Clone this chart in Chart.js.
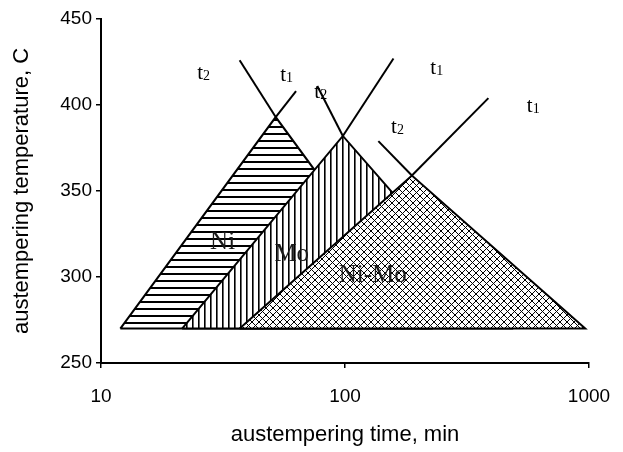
<!DOCTYPE html>
<html>
<head>
<meta charset="utf-8">
<script src="https://cdn.jsdelivr.net/npm/chart.js@4.4.1/dist/chart.umd.min.js"></script>
<style>
    html, body { margin: 0; padding: 0; background: #fff; }
    #wrap { width: 623px; height: 452px; }
</style>
</head>
<body>
<div id="wrap"><canvas id="chart"></canvas></div>
<script>
// processing windows: corners of each triangle (time, min / temperature, C), closed back to the start
const niTime = [12, 52, 225, 12];
const niTemp = [270, 393, 270, 270];
const moTime = [21.5, 98, 480, 21.5];
const moTemp = [270, 382, 270, 270];
const niMoTime = [37, 188, 965, 37];
const niMoTemp = [270, 359, 270, 270];

// t1 runs from each apex up to the right, t2 comes down from the upper left into it
const t1Time = [[52, 63], [98, 158], [188, 387]];
const t1Temp = [[393, 408], [382, 427], [359, 404]];
const t2Time = [[37, 52], [77, 98], [137, 188]];
const t2Temp = [[426, 393], [411, 382], [379, 359]];

const timeTicks = [10, 100, 1000];

// text placed in data units: [base, subscript, time, temperature]
const tNotes = [
    ['t', '2', 26.5, 419], ['t', '1', 58, 418],
    ['t', '2', 80, 408], ['t', '1', 239, 422],
    ['t', '2', 165, 388], ['t', '1', 594, 400]
];
const alloyNotes = [['Ni', 31.5, 320], ['Mo', 60.5, 313], ['Ni-Mo', 130, 301]];

function points(xs, ys) {
    return xs.map((x, i) => ({ x: x, y: ys[i] }));
}

function makePattern(kind) {
    const c = document.createElement('canvas');
    const size = kind === 'vertical' ? 6 : 7;
    c.width = size;
    c.height = size;
    const g = c.getContext('2d');
    g.fillStyle = '#fff';
    g.fillRect(0, 0, size, size);
    g.fillStyle = '#000';
    g.strokeStyle = '#000';
    if (kind === 'horizontal') {
        g.fillRect(0, 0, size, 2);
    } else if (kind === 'vertical') {
        g.fillRect(0, 0, 1.6, size);
    } else {
        g.lineWidth = 1;
        g.beginPath();
        g.moveTo(-1, -1); g.lineTo(size + 1, size + 1);
        g.moveTo(size + 1, -1); g.lineTo(-1, size + 1);
        g.stroke();
    }
    return g.createPattern(c, 'repeat');
}

function region(label, xs, ys, pattern, order) {
    return {
        label: label,
        data: points(xs, ys),
        showLine: true,
        fill: 'shape',
        backgroundColor: makePattern(pattern),
        borderColor: '#000',
        borderWidth: 2,
        pointRadius: 0,
        tension: 0,
        order: order
    };
}

function boundary(xs, ys) {
    return {
        data: points(xs, ys),
        showLine: true,
        fill: false,
        borderColor: '#000',
        borderWidth: 2,
        pointRadius: 0,
        order: 0
    };
}

const datasets = [
    region('Ni', niTime, niTemp, 'horizontal', 3),
    region('Mo', moTime, moTemp, 'vertical', 2),
    region('Ni-Mo', niMoTime, niMoTemp, 'cross', 1)
];
t1Time.forEach((xs, i) => datasets.push(boundary(xs, t1Temp[i])));
t2Time.forEach((xs, i) => datasets.push(boundary(xs, t2Temp[i])));

const serif = '"Liberation Serif", "Times New Roman", serif';

const notesPlugin = {
    id: 'notes',
    afterDatasetsDraw(chart) {
        const { ctx, scales: { x, y } } = chart;
        ctx.save();
        ctx.fillStyle = '#000';
        ctx.textBaseline = 'alphabetic';
        ctx.textAlign = 'left';
        tNotes.forEach(([base, sub, tx, ty]) => {
            const px = x.getPixelForValue(tx);
            const py = y.getPixelForValue(ty);
            ctx.font = '21px ' + serif;
            const w = ctx.measureText(base).width;
            ctx.fillText(base, px - 7, py + 7);
            ctx.font = '14px ' + serif;
            ctx.fillText(sub, px - 7 + w, py + 8);
        });
        ctx.font = '25px ' + serif;
        ctx.fillStyle = '#1a1a1a';
        ctx.textAlign = 'center';
        ctx.textBaseline = 'middle';
        alloyNotes.forEach(([text, tx, ty]) => {
            ctx.fillText(text, x.getPixelForValue(tx), y.getPixelForValue(ty));
        });
        ctx.restore();
    }
};

const tickFont = { family: '"Liberation Sans", Arial, sans-serif', size: 19 };
const titleFont = { family: '"Liberation Sans", Arial, sans-serif', size: 22 };

new Chart(document.getElementById('chart'), {
    type: 'scatter',
    data: { datasets: datasets },
    options: {
        responsive: true,
        maintainAspectRatio: false,
        animation: false,
        layout: { padding: { left: 0, right: 34, top: 19, bottom: 0 } },
        plugins: {
            legend: { display: false },
            tooltip: { enabled: false }
        },
        scales: {
            x: {
                type: 'logarithmic',
                min: 10,
                max: 1000,
                afterBuildTicks: scale => {
                    scale.ticks = timeTicks.map(v => ({ value: v }));
                },
                afterFit: scale => {
                    scale.height = 89;
                    // the layout padding already leaves room for the "1000" label
                    scale.paddingRight = 0;
                },
                ticks: {
                    color: '#000',
                    font: tickFont,
                    padding: 17,
                    maxRotation: 0,
                    callback: v => String(v)
                },
                grid: { drawOnChartArea: false, color: '#000', lineWidth: 1.5, tickLength: 5 },
                border: { color: '#000', width: 2 },
                title: {
                    display: true,
                    text: 'austempering time, min',
                    color: '#000',
                    font: titleFont,
                    padding: { top: 4, bottom: 4 }
                }
            },
            y: {
                min: 250,
                max: 450,
                afterFit: scale => { scale.width = 101; },
                ticks: {
                    stepSize: 50,
                    color: '#000',
                    font: tickFont,
                    padding: 4
                },
                grid: { drawOnChartArea: false, color: '#000', lineWidth: 1.5, tickLength: 5 },
                border: { color: '#000', width: 2 },
                title: {
                    display: true,
                    text: 'austempering temperature, C',
                    color: '#000',
                    font: titleFont,
                    padding: { top: 9, bottom: 0 }
                }
            }
        }
    },
    plugins: [notesPlugin]
});
</script>
</body>
</html>
